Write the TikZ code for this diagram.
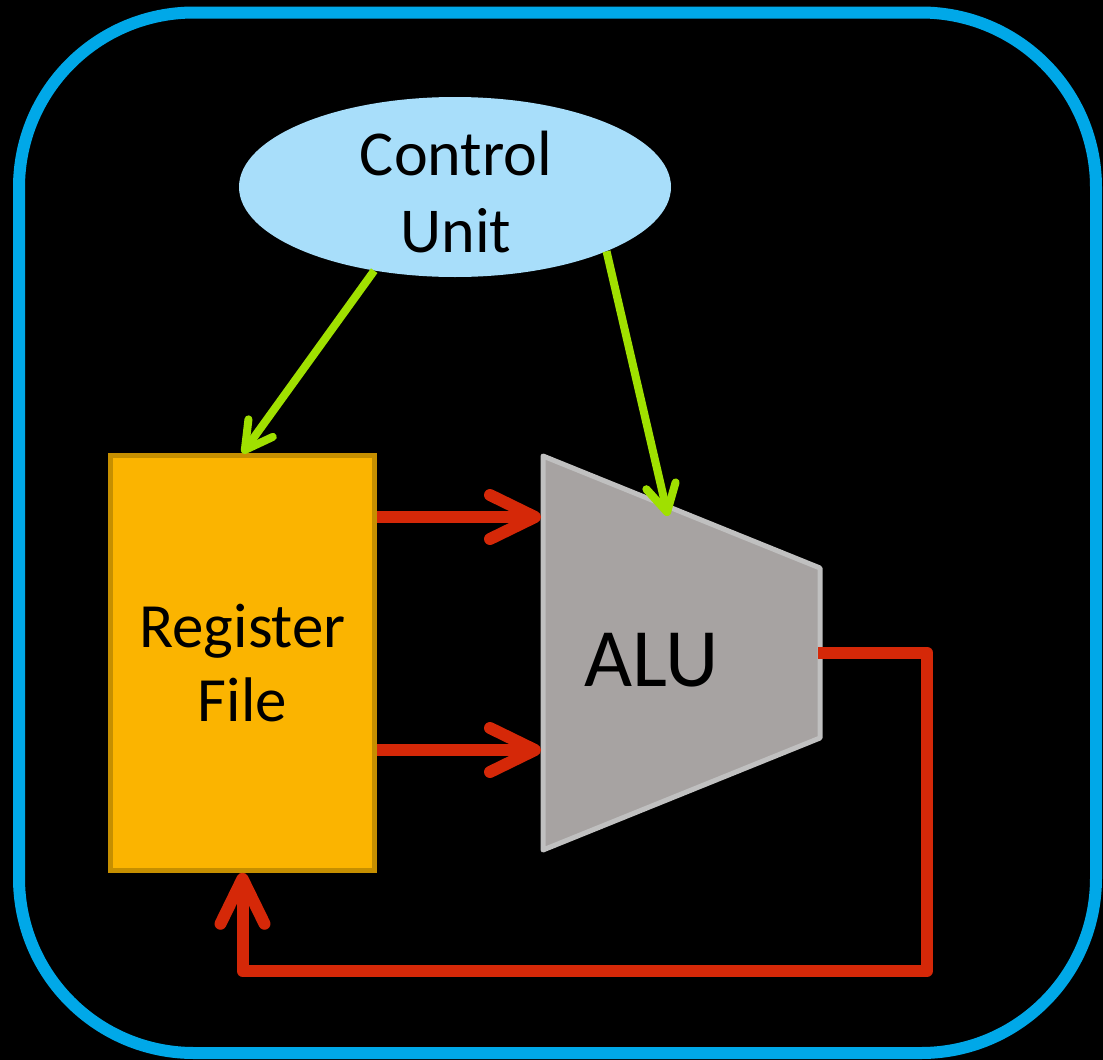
\documentclass[tikz,border=0pt]{standalone}
\usepackage{fontspec}
\setmainfont{Carlito}
\usetikzlibrary{shapes.geometric,arrows.meta,calc}
\definecolor{frameblue}{RGB}{0,168,232}
\definecolor{cublue}{RGB}{168,222,250}
\definecolor{rforange}{RGB}{251,180,0}
\definecolor{rfborder}{RGB}{198,143,0}
\definecolor{alugrey}{RGB}{167,163,162}
\definecolor{aluborder}{RGB}{192,192,192}
\definecolor{datared}{RGB}{213,40,8}
\definecolor{ctrlgreen}{RGB}{160,224,0}
\tikzset{
  frame/.style={draw=frameblue, line width=12pt, rounded corners=175pt},
  cunode/.style={ellipse, fill=cublue, minimum width=432pt, minimum height=180pt, inner sep=0pt},
  cutxt/.style={align=center, inner sep=0pt, font=\fontsize{64}{77}\selectfont},
  rfnode/.style={rectangle, fill=rforange, draw=rfborder, line width=5pt, minimum width=264pt, minimum height=414.5pt, align=center, font=\fontsize{63}{74}\selectfont},
  alushape/.style={fill=alugrey, draw=aluborder, line width=5pt, line join=round},
  alulbl/.style={font=\fontsize{83}{90}\selectfont, anchor=base, inner sep=0pt},
  ctrl/.style={draw=ctrlgreen, line width=8pt, -{Straight Barb[length=27pt, width=30pt, round]}},
  data/.style={draw=datared, line width=12pt, line join=round},
  dataarrow/.style={data, -{Straight Barb[length=45pt, width=44pt, round]}}
}
\begin{document}
\begin{tikzpicture}[x=1pt,y=-1pt]
  \fill[black] (0,0) rectangle (1103,1060);
  \useasboundingbox (0,0) rectangle (1103,1060);
  \draw[frame] (19,12.5) rectangle (1096,1053);

  \node[cunode] (cu) at (455,187) {};
  \node[cutxt] (cutext) at (456,192) {Control\\Unit};
  \node[rfnode] (rf) at (242.5,663) {Register\\File};

  \coordinate (a1) at (543,456);
  \coordinate (a2) at (820,568);
  \coordinate (a3) at (820,738);
  \coordinate (a4) at (543,850);
  \draw[alushape] (a1) -- (a2) -- (a3) -- (a4) -- cycle;
  \node[alulbl] (alulabel) at (652,686) {ALU};

  \coordinate (aluinA) at (541,517);
  \coordinate (aluinB) at (541,750);
  \coordinate (aluctrl) at (668,516);
  \coordinate (aluout) at (818,652.5);
  \coordinate (fbcorner) at (927,971);

  \draw[dataarrow] (rf.east |- aluinA) -- (aluinA);
  \draw[dataarrow] (rf.east |- aluinB) -- (aluinB);
  \draw[dataarrow] (aluout) -| (fbcorner) -| (rf.south);

  \draw[ctrl] (cu.226) -- (rf.north);
  \draw[ctrl] (cu.337) -- (aluctrl);
\end{tikzpicture}
\end{document}
